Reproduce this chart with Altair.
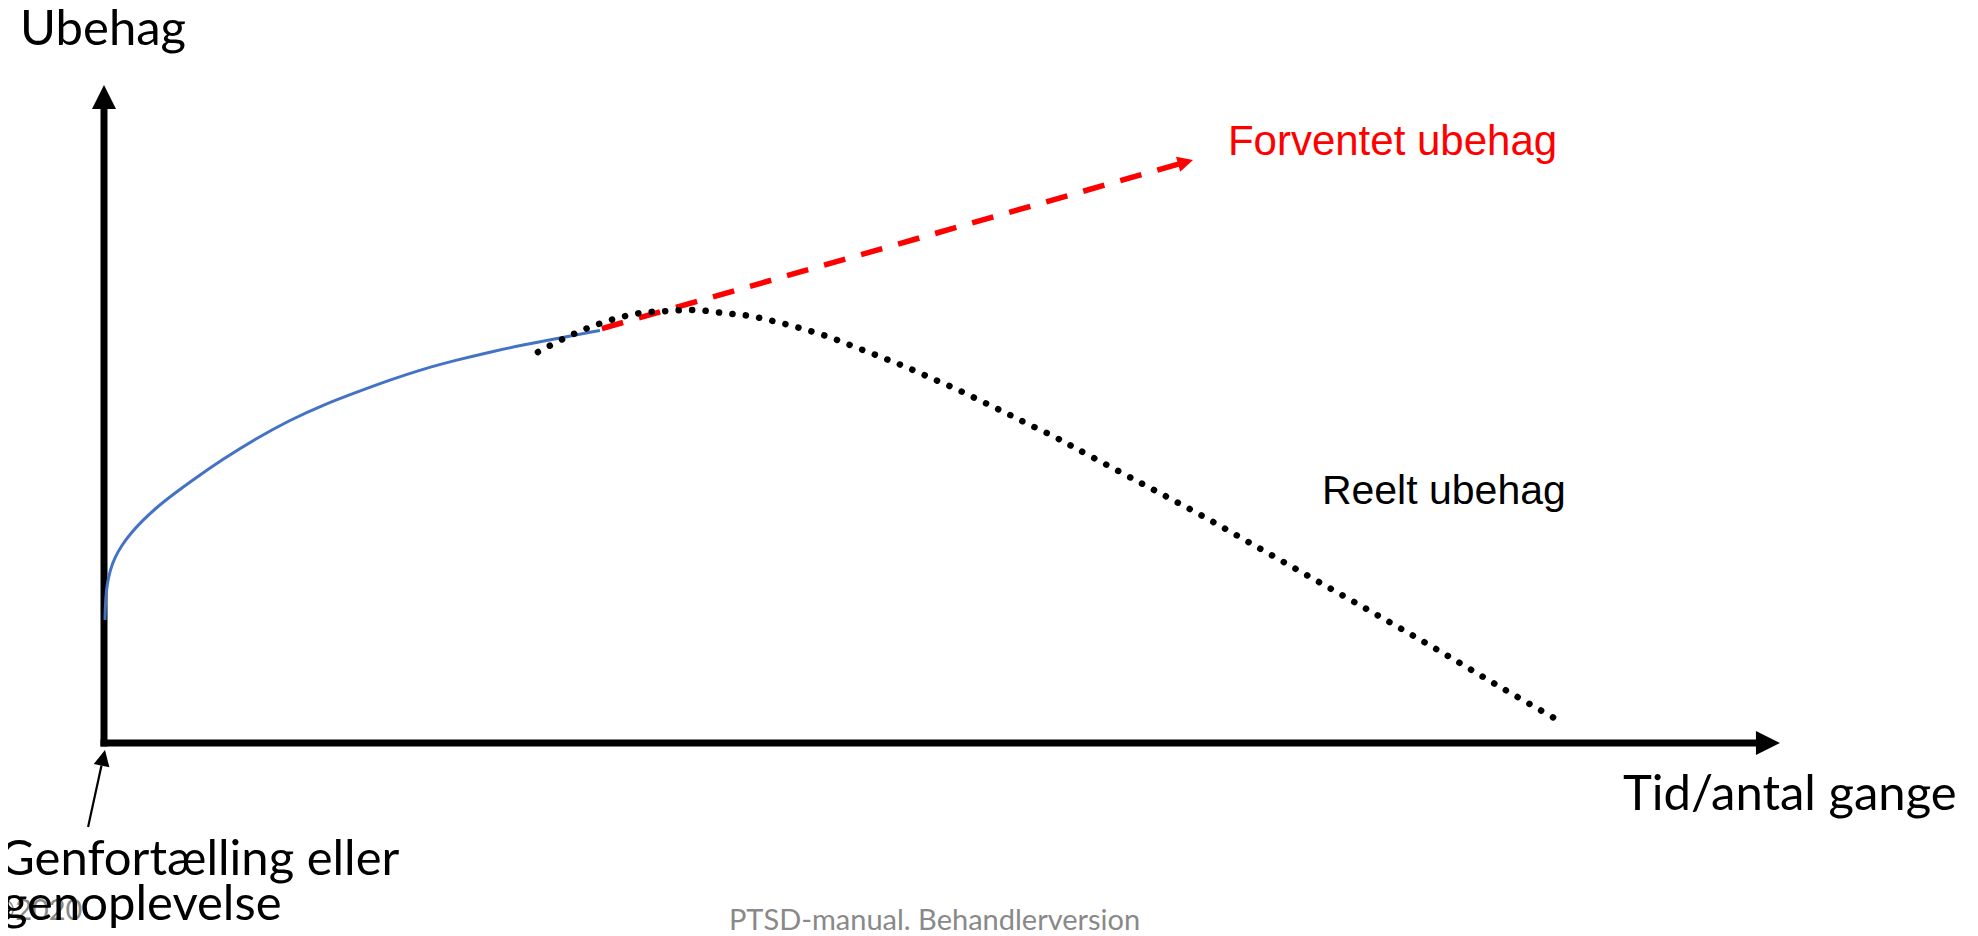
import math
import altair as alt
import pandas as pd

# ---------------- data (time units 0..100 on x, discomfort units 0..100 on y) -------------
# blue curve: initial discomfort rise
blue_x = [0.06, 0.09, 0.18, 0.36, 0.66, 1.07, 1.61, 2.27, 3.16, 4.24, 5.13, 7.10, 9.13, 11.10,
          13.07, 15.10, 17.06, 19.03, 21.06, 23.03, 25.00, 27.03, 29.59]
blue_y = [18.69, 21.73, 24.01, 26.29, 28.27, 30.09, 31.91, 33.74, 35.87, 37.99, 39.67, 43.16,
          46.35, 49.09, 51.37, 53.34, 55.17, 56.84, 58.21, 59.42, 60.49, 61.47, 62.69]

# expected discomfort (red dashed arrow)
red_x = [29.71, 64.17]
red_y = [62.99, 88.02]
red_tip = (64.98, 88.60)

# real discomfort (black dotted)
dot_x = [25.89, 27.39, 28.88, 30.43, 32.04, 33.65, 35.26, 36.93, 38.54, 40.16, 41.71, 43.26,
         44.81, 46.36, 47.85, 49.34, 50.84, 52.33, 53.82, 55.25, 56.74, 58.17, 61.75, 65.33,
         68.91, 72.49, 76.07, 79.59, 83.11, 86.63]
dot_y = [59.42, 61.40, 63.07, 64.44, 65.35, 65.65, 65.81, 65.35, 64.89, 63.98, 62.92, 61.70,
         60.18, 58.66, 57.14, 55.47, 53.80, 51.98, 50.15, 48.33, 46.50, 44.53, 39.67, 34.80,
         29.64, 24.47, 19.30, 14.13, 8.81, 3.65]

# annotation arrow pointing to origin
ann_x = [-0.95, -0.15]
ann_y = [-12.77, -3.43]
ann_tip = (0.06, -1.06)

labels_black = ["Ubehag", "Tid/antal gange", "Genfortælling eller", "genoplevelse"]
labels_black_x = [-5.01, 90.63, -6.26, -6.09]
labels_black_y = [106.08, -10.18, -20.06, -26.90]

footer_text = ["©2020", "PTSD-manual. Behandlerversion"]
footer_x = [-6.74, 37.29]
footer_y = [-26.90, -28.42]

# ---------------- layout -------------------------------------------------------------
W, H = 1962, 928
PX_X = 16.76   # pixels per x unit
PX_Y = 6.58    # pixels per y unit
xs = alt.Scale(domain=[-5.728, 111.34], nice=False, zero=False)
ys = alt.Scale(domain=[-29.33, 111.70], nice=False, zero=False)


def X(f="x"):
    return alt.X(f + ":Q", scale=xs, axis=None)


def Y(f="y"):
    return alt.Y(f + ":Q", scale=ys, axis=None)


ARROW = "M0,0L-1,2L1,2Z"


def heading(p0, p1):
    dx = (p1[0] - p0[0]) * PX_X
    dy = (p1[1] - p0[1]) * PX_Y
    a = math.degrees(math.atan2(dx, dy))
    return a % 360


# axes
vaxis = alt.Chart(pd.DataFrame({"x": [0.0], "y": [0.0], "y2": [96.5]})).mark_rule(
    strokeWidth=7, color="black", strokeCap="square"
).encode(x=X(), y=Y(), y2="y2:Q")
haxis = alt.Chart(pd.DataFrame({"x": [0.0], "x2": [98.55], "y": [0.0]})).mark_rule(
    strokeWidth=7, color="black", strokeCap="square"
).encode(x=X(), x2="x2:Q", y=Y())

yhead = alt.Chart(pd.DataFrame({"x": [0.0], "y": [100.0]})).mark_point(
    shape=ARROW, size=576, filled=True, color="black", opacity=1, angle=0
).encode(x=X(), y=Y())
xhead = alt.Chart(pd.DataFrame({"x": [100.0], "y": [0.0]})).mark_point(
    shape=ARROW, size=576, filled=True, color="black", opacity=1, angle=90
).encode(x=X(), y=Y())

# blue curve
blue = alt.Chart(pd.DataFrame({"x": blue_x, "y": blue_y, "i": range(len(blue_x))})).mark_line(
    color="#4472C4", strokeWidth=3, interpolate="basis"
).encode(x=X(), y=Y(), order="i:Q")

# red dashed arrow
red = alt.Chart(pd.DataFrame({"x": red_x, "y": red_y, "i": [0, 1]})).mark_line(
    color="#FF0000", strokeWidth=5.5, strokeDash=[22, 16.5], strokeCap="butt"
).encode(x=X(), y=Y(), order="i:Q")
redhead = alt.Chart(pd.DataFrame({"x": [red_tip[0]], "y": [red_tip[1]]})).mark_point(
    shape=ARROW, size=240, filled=True, color="#FF0000", opacity=1,
    angle=heading((red_x[0], red_y[0]), red_tip)
).encode(x=X(), y=Y())

# dotted real curve
dots = alt.Chart(pd.DataFrame({"x": dot_x, "y": dot_y, "i": range(len(dot_x))})).mark_line(
    color="black", strokeWidth=6.5, strokeDash=[0.1, 13.4], strokeCap="round",
    interpolate="catmull-rom"
).encode(x=X(), y=Y(), order="i:Q")

# annotation arrow
ann = alt.Chart(pd.DataFrame({"x": ann_x, "y": ann_y, "i": [0, 1]})).mark_line(
    color="black", strokeWidth=2.2
).encode(x=X(), y=Y(), order="i:Q")
annhead = alt.Chart(pd.DataFrame({"x": [ann_tip[0]], "y": [ann_tip[1]]})).mark_point(
    shape=ARROW, size=256, filled=True, color="black", opacity=1,
    angle=heading((ann_x[0], ann_y[0]), ann_tip)
).encode(x=X(), y=Y())

# texts
txt_calibri = alt.Chart(pd.DataFrame({"x": labels_black_x, "y": labels_black_y, "t": labels_black})).mark_text(
    align="left", baseline="alphabetic", font="Lato", fontSize=49, color="black"
).encode(x=X(), y=Y(), text="t:N")

txt_forv = alt.Chart(pd.DataFrame({"x": [67.06], "y": [89.36], "t": ["Forventet ubehag"]})).mark_text(
    align="left", baseline="alphabetic", font="Liberation Sans", fontSize=42, color="#FF0000"
).encode(x=X(), y=Y(), text="t:N")
txt_reelt = alt.Chart(pd.DataFrame({"x": [72.67], "y": [36.32], "t": ["Reelt ubehag"]})).mark_text(
    align="left", baseline="alphabetic", font="Liberation Sans", fontSize=41, color="black"
).encode(x=X(), y=Y(), text="t:N")

footer = alt.Chart(pd.DataFrame({"x": footer_x, "y": footer_y, "t": footer_text})).mark_text(
    align="left", baseline="alphabetic", font="Lato", fontSize=29, color="#898989"
).encode(x=X(), y=Y(), text="t:N")

chart = alt.layer(
    footer, vaxis, haxis, yhead, xhead, blue, red, redhead, dots, ann, annhead,
    txt_calibri, txt_forv, txt_reelt
).properties(
    width=W, height=H, padding=0, background="white",
    autosize=alt.AutoSizeParams(type="none")
).configure_view(stroke=None)

chart.save("out.html", embed_options={"renderer": "svg", "actions": False})
